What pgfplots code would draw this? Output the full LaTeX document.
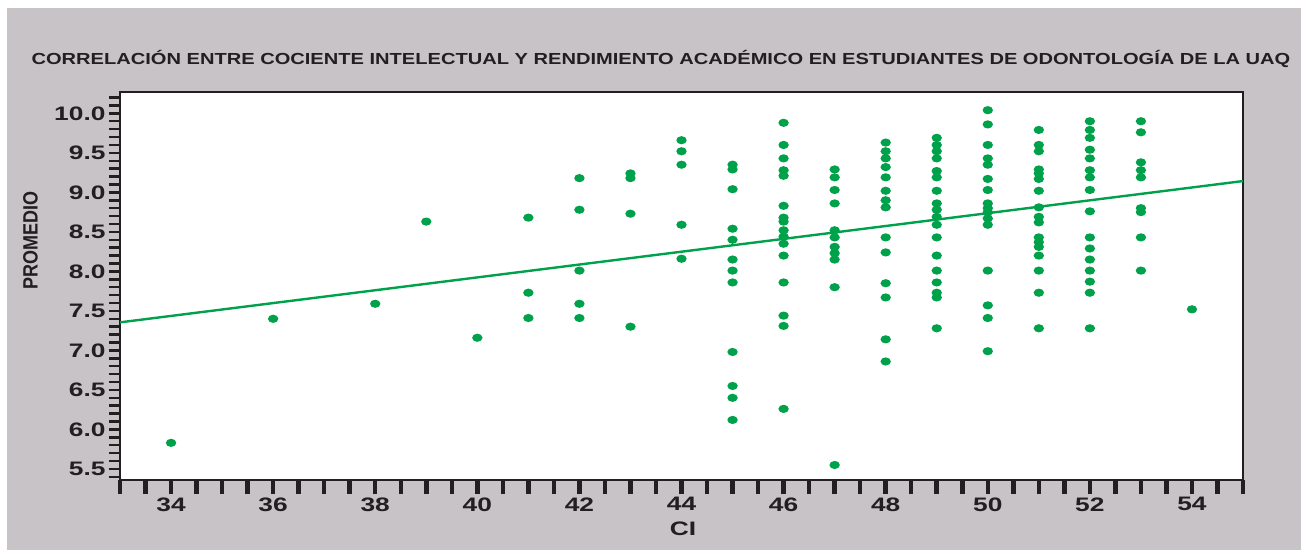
\documentclass[border=0pt]{standalone}
\usepackage{fontspec}
\setmainfont{Liberation Sans}[FakeStretch=1.35]
\newfontfamily\plainfont{Liberation Sans}
\newfontfamily\titlefont{Liberation Sans}[FakeStretch=1.255]
\usepackage{pgfplots}
\pgfplotsset{compat=1.18}
\definecolor{bg}{RGB}{199,195,198}
\definecolor{dk}{RGB}{35,31,32}
\definecolor{gr}{RGB}{0,161,75}
\pgfdeclareplotmark{ell}{\pgfpathellipse{\pgfpointorigin}{\pgfqpoint{5.2pt}{0pt}}{\pgfqpoint{0pt}{4.1pt}}\pgfusepathqfill}
\pgfplotstableread{
x y
34 5.83
36 7.40
38 7.59
39 8.63
40 7.16
41 8.68
41 7.73
41 7.41
42 9.18
42 8.78
42 8.01
42 7.59
42 7.41
43 9.24
43 9.18
43 8.73
43 7.30
44 9.66
44 9.52
44 9.35
44 8.59
44 8.16
45 9.35
45 9.29
45 9.04
45 8.54
45 8.40
45 8.15
45 8.01
45 7.86
45 6.98
45 6.55
45 6.40
45 6.12
46 9.88
46 9.60
46 9.43
46 9.28
46 9.21
46 8.83
46 8.68
46 8.63
46 8.52
46 8.44
46 8.35
46 8.20
46 7.86
46 7.44
46 7.31
46 6.26
47 9.29
47 9.19
47 9.03
47 8.86
47 8.52
47 8.43
47 8.31
47 8.23
47 8.15
47 7.80
47 5.55
48 9.63
48 9.52
48 9.43
48 9.32
48 9.19
48 9.02
48 8.90
48 8.81
48 8.43
48 8.24
48 7.85
48 7.67
48 7.14
48 6.86
49 9.69
49 9.60
49 9.52
49 9.43
49 9.27
49 9.19
49 9.02
49 8.86
49 8.78
49 8.69
49 8.59
49 8.43
49 8.20
49 8.01
49 7.86
49 7.73
49 7.67
49 7.28
50 10.04
50 9.86
50 9.60
50 9.43
50 9.35
50 9.17
50 9.03
50 8.86
50 8.80
50 8.75
50 8.67
50 8.59
50 8.01
50 7.57
50 7.41
50 6.99
51 9.79
51 9.60
51 9.52
51 9.29
51 9.24
51 9.17
51 9.02
51 8.81
51 8.69
51 8.62
51 8.43
51 8.37
51 8.31
51 8.20
51 8.01
51 7.73
51 7.28
52 9.90
52 9.79
52 9.69
52 9.54
52 9.43
52 9.28
52 9.19
52 9.03
52 8.76
52 8.43
52 8.29
52 8.15
52 8.01
52 7.87
52 7.73
52 7.28
53 9.90
53 9.76
53 9.38
53 9.28
53 9.19
53 8.80
53 8.75
53 8.43
53 8.01
54 7.52
}\datatable
\begin{document}
\begin{tikzpicture}[x=1pt,y=1pt]
\useasboundingbox (0,0) rectangle (1301,550);
\fill[bg] (7,0) rectangle (1301,542);
\node[font=\titlefont\bfseries\fontsize{16}{16}\selectfont, text=dk, anchor=base, inner sep=0pt] at (661,485.7) {CORRELACIÓN ENTRE COCIENTE INTELECTUAL Y RENDIMIENTO ACADÉMICO EN ESTUDIANTES DE ODONTOLOGÍA DE LA UAQ};
\begin{axis}[at={(120pt,70pt)}, anchor=south west, width=1123pt, height=388pt, scale only axis,
  xmin=33, xmax=55, ymin=5.36, ymax=10.27,
  axis background/.style={fill=white},
  axis line style={dk, line width=2.5pt},
  xtick={34,36,...,54}, minor xtick={33,33.5,...,55.1},
  ytick=\empty,
  xtick pos=bottom,
  tick align=outside, major tick length=14pt, minor tick length=14pt,
  every tick/.style={dk, line width=4.5pt},
  /pgf/number format/assume math mode=true,
  xticklabel style={font=\bfseries\fontsize{19.5}{19.5}\selectfont, text=dk},
  xlabel={CI},
  every axis x label/.style={at={(axis description cs:0.5013,-0.1255)}, anchor=center, font=\bfseries\fontsize{19.5}{19.5}\selectfont, text=dk},
]
\addplot[gr, line width=2.4pt] coordinates {(33,7.355) (55,9.143)};
\addplot[only marks, color=gr, mark=ell, mark options={fill=gr, draw=none}] table[x=x,y=y] {\datatable};
\end{axis}
\begin{axis}[at={(120pt,70pt)}, anchor=south west, width=1123pt, height=388pt, scale only axis,
  xmin=33, xmax=55, ymin=5.36, ymax=10.27,
  axis line style={draw=none},
  xtick=\empty,
  ytick={5.5,6,...,10.01}, minor ytick={5.4,5.5,...,10.25},
  ytick pos=left,
  tick align=outside, major tick length=11pt, minor tick length=11pt,
  every tick/.style={dk, line width=2.5pt},
  /pgf/number format/assume math mode=true,
  yticklabel style={font=\bfseries\fontsize{19.5}{19.5}\selectfont, text=dk, /pgf/number format/.cd, fixed, fixed zerofill, precision=1},
  ylabel={\scalebox{1}[1.15]{\plainfont\bfseries\fontsize{18}{18}\selectfont PROMEDIO}},
  every axis y label/.style={at={(axis description cs:-0.0797,0.616)}, rotate=90, anchor=center, text=dk},
]
\addplot[draw=none] coordinates {(40,8)};
\end{axis}
\end{tikzpicture}
\end{document}
